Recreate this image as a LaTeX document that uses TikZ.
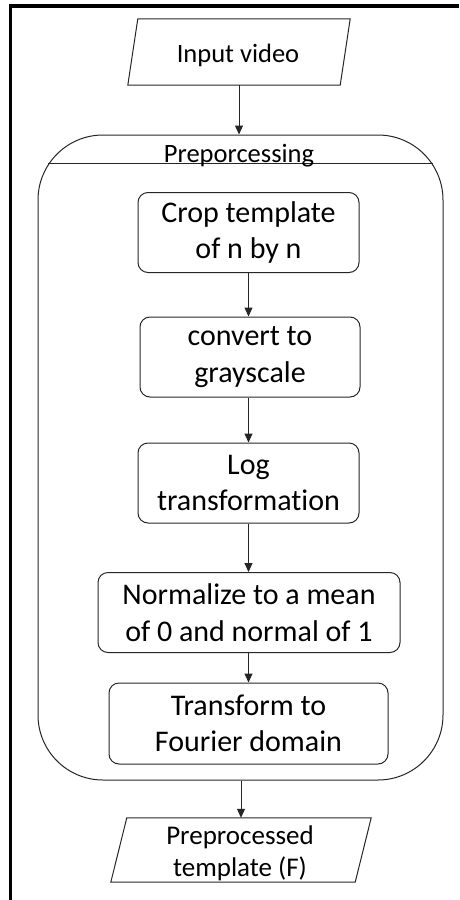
\documentclass[tikz,border=0pt]{standalone}
\usepackage{fontspec}
\setmainfont{Carlito}[Ligatures={NoCommon}]
\usetikzlibrary{arrows.meta,calc}

\tikzset{
  stepbox/.style={draw=black!85, line width=1pt, rounded corners=10pt,
    minimum height=80pt, inner sep=0pt, align=center,
    font=\fontsize{30}{36.5}\selectfont},
  iobox/.style={minimum height=66pt, inner sep=0pt},
  flow/.style={draw=black!85, line width=1pt, -{Triangle[length=9pt,width=8pt]}},
  outline/.style={draw=black!85, line width=1pt},
  smalltext/.style={font=\fontsize{26.5}{32}\selectfont},
}

\begin{document}
\begin{tikzpicture}[x=1pt,y=-1pt]
\useasboundingbox (0,0) rectangle (459,900);

% page frame (top and left rules)
\draw[line width=3.5pt] (10.5,900) -- (10.5,6) -- (459,6);

% input data
\node[iobox, minimum width=212pt] (in) at (239,52) {};
\draw[outline] ($(in.north west)+(5,0)$) -- ($(in.north east)+(5,0)$)
  -- ($(in.south east)+(-5,0)$) -- ($(in.south west)+(-5,0)$) -- cycle;
\node[smalltext, anchor=base] (intext) at (238,62) {Input video};

% preprocessing container
\node[outline, rounded corners=65pt, minimum width=405pt, minimum height=645pt,
  inner sep=0pt] (prep) at (240.5,457.5) {};
\draw[outline] ($(prep.north west)+(10.9,29)$) -- ($(prep.north east)+(-10.9,29)$);
\node[smalltext, anchor=base] (prephead) at (239,162) {Preporcessing};

% processing steps
\node[stepbox, minimum width=221pt] (crop) at (248.5,232.5) {Crop template\\of n by n};
\node[stepbox, minimum width=220pt] (gray) at (250,357) {convert to\\grayscale};
\node[stepbox, minimum width=221pt] (log)  at (248.5,483) {Log\\transformation};
\node[stepbox, minimum width=302pt] (norm) at (249,612.5) {Normalize to a mean\\of 0 and normal of 1};
\node[stepbox, minimum width=279pt, minimum height=81pt] (four) at (248.5,723.5) {Transform to\\Fourier domain};

% output data
\node[iobox, minimum width=244pt, minimum height=64pt] (out) at (241,850) {};
\draw[outline] ($(out.north west)+(8,0)$) -- ($(out.north east)+(8,0)$)
  -- ($(out.south east)+(-8,0)$) -- ($(out.south west)+(-8,0)$) -- cycle;
\node[align=center, inner sep=0pt, font=\fontsize{27}{32}\selectfont] (outtext)
  at (240,853) {Preprocessed\\template (F)};

% connectors
\draw[flow] (in.south) -- (in.south |- prep.north);
\draw[flow] (crop.south) -- (crop.south |- gray.north);
\draw[flow] (crop.south |- gray.south) -- (crop.south |- log.north);
\draw[flow] (log.south) -- (log.south |- norm.north);
\draw[flow] (log.south |- norm.south) -- (log.south |- four.north);
\draw[flow] (out.north |- prep.south) -- (out.north);
\end{tikzpicture}
\end{document}
